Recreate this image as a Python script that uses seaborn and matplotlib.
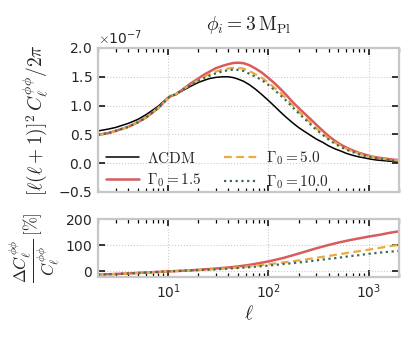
import numpy as np
import pandas as pd
import matplotlib
matplotlib.use("Agg")
import matplotlib.pyplot as plt
import seaborn as sns

# multipoles (top panel)
ell = [2, 2.5, 3, 4, 5, 6, 7, 8, 9, 10, 10.5, 11, 11.5, 12, 13, 15, 17, 20, 23, 26, 30,
       35, 40, 45, 50, 57, 65, 75, 85, 100, 115, 130, 150, 175, 200, 230, 265, 300, 350,
       400, 460, 530, 600, 700, 800, 920, 1050, 1200, 1400, 1600, 1800, 2000]
# [l(l+1)]^2 C_l^phiphi / 2pi in units of 1e-7
lcdm = [0.56, 0.59, 0.62, 0.69, 0.76, 0.84, 0.92, 0.99, 1.07, 1.14, 1.165, 1.175, 1.18, 1.19,
        1.23, 1.29, 1.34, 1.40, 1.44, 1.47, 1.49, 1.50, 1.50, 1.485, 1.46, 1.42, 1.36, 1.28,
        1.20, 1.09, 0.99, 0.90, 0.80, 0.70, 0.62, 0.55, 0.48, 0.42, 0.36, 0.30, 0.25, 0.21,
        0.17, 0.135, 0.11, 0.09, 0.07, 0.055, 0.045, 0.035, 0.03, 0.025]
gamma_15 = [0.49, 0.52, 0.56, 0.63, 0.71, 0.79, 0.88, 0.96, 1.05, 1.13, 1.16, 1.175, 1.185,
            1.20, 1.24, 1.32, 1.39, 1.47, 1.54, 1.59, 1.65, 1.69, 1.72, 1.74, 1.745, 1.735,
            1.70, 1.64, 1.58, 1.48, 1.39, 1.30, 1.19, 1.06, 0.96, 0.86, 0.76, 0.67, 0.56,
            0.47, 0.39, 0.32, 0.27, 0.22, 0.18, 0.15, 0.12, 0.10, 0.085, 0.07, 0.06, 0.055]
gamma_5 = [0.49, 0.52, 0.56, 0.63, 0.71, 0.79, 0.88, 0.96, 1.05, 1.13, 1.16, 1.175, 1.185,
           1.20, 1.24, 1.31, 1.37, 1.44, 1.50, 1.55, 1.59, 1.625, 1.645, 1.655, 1.655, 1.64,
           1.60, 1.54, 1.49, 1.40, 1.31, 1.23, 1.13, 1.01, 0.90, 0.80, 0.70, 0.61, 0.51,
           0.43, 0.36, 0.30, 0.25, 0.20, 0.165, 0.135, 0.11, 0.09, 0.075, 0.06, 0.05, 0.045]
gamma_10 = [0.49, 0.52, 0.56, 0.63, 0.71, 0.79, 0.88, 0.96, 1.05, 1.13, 1.16, 1.175, 1.185,
            1.20, 1.24, 1.31, 1.36, 1.43, 1.48, 1.52, 1.56, 1.595, 1.615, 1.625, 1.62, 1.60,
            1.55, 1.50, 1.45, 1.36, 1.27, 1.19, 1.09, 0.97, 0.87, 0.77, 0.67, 0.58, 0.49,
            0.41, 0.34, 0.28, 0.235, 0.19, 0.155, 0.125, 0.10, 0.085, 0.07, 0.055, 0.045, 0.04]

# relative difference w.r.t. LCDM in percent (bottom panel)
ell_diff = [2, 3, 5, 7, 10, 15, 20, 30, 40, 50, 65, 80, 100, 120, 140, 170, 200, 250,
            300, 400, 500, 640, 800, 1000, 1300, 1600, 2000]
diff_15 = [-12, -10, -6, -3, 0, 3, 6, 11, 15, 19, 25, 31, 38, 45, 51, 60, 68, 79,
           88, 101, 110, 119, 126, 133, 140, 147, 153]
diff_5 = [-12, -10, -6, -3, 0, 3, 5, 9, 12, 15, 19, 23, 27, 31, 34, 38, 42, 47,
          52, 59, 65, 72, 77, 83, 90, 96, 101]
diff_10 = [-12, -10, -6, -3, 0, 3, 5, 8, 11, 13, 16, 19, 22, 25, 28, 31, 34, 38,
           42, 48, 52, 58, 62, 67, 72, 75, 78]

colors = {"lcdm": "black", "g15": "#d95b5e", "g5": "#ebab3c", "g10": "#3d6b58"}

sns.set_style("whitegrid", {
    "grid.linestyle": ":", "grid.color": ".8",
    "axes.edgecolor": ".78",
    "xtick.direction": "in", "ytick.direction": "in",
    "xtick.top": True, "xtick.bottom": True,
    "ytick.left": True, "ytick.right": True,
})
plt.rcParams["mathtext.fontset"] = "cm"
plt.rcParams["axes.formatter.use_mathtext"] = True
plt.rcParams["font.family"] = ["DejaVu Sans"]

fig = plt.figure(figsize=(4.15, 3.38), dpi=100)
ax1 = fig.add_axes([0.236, 0.432, 0.725, 0.426])
ax2 = fig.add_axes([0.236, 0.180, 0.725, 0.172])

top = pd.DataFrame({"ell": ell, "lcdm": lcdm, "g15": gamma_15, "g5": gamma_5, "g10": gamma_10})
bot = pd.DataFrame({"ell": ell_diff, "g15": diff_15, "g5": diff_5, "g10": diff_10})

dash = (0, (3.5, 2))
dot = (0, (1, 1.6))

sns.lineplot(x=top["ell"], y=top["lcdm"] * 1e-7, ax=ax1, color=colors["lcdm"], lw=1.1,
             label=r"$\Lambda\mathrm{CDM}$", sort=False)
sns.lineplot(x=top["ell"], y=top["g15"] * 1e-7, ax=ax1, color=colors["g15"], lw=1.8,
             label=r"$\Gamma_0 = 1.5$", sort=False)
sns.lineplot(x=top["ell"], y=top["g5"] * 1e-7, ax=ax1, color=colors["g5"], lw=1.6, ls=dash,
             label=r"$\Gamma_0 = 5.0$", sort=False)
sns.lineplot(x=top["ell"], y=top["g10"] * 1e-7, ax=ax1, color=colors["g10"], lw=1.6, ls=dot,
             label=r"$\Gamma_0 = 10.0$", sort=False)

sns.lineplot(x=bot["ell"], y=bot["g15"], ax=ax2, color=colors["g15"], lw=1.8, sort=False)
sns.lineplot(x=bot["ell"], y=bot["g5"], ax=ax2, color=colors["g5"], lw=1.6, ls=dash, sort=False)
sns.lineplot(x=bot["ell"], y=bot["g10"], ax=ax2, color=colors["g10"], lw=1.6, ls=dot, sort=False)

for ax in (ax1, ax2):
    ax.set_xscale("log")
    ax.set_xlim(2, 2000)
    for s in ax.spines.values():
        s.set_linewidth(1.6)
    ax.tick_params(which="major", length=5, width=1.1, color="black", labelsize=10, pad=4)
    ax.tick_params(which="minor", length=3, width=0.9, color="black")
    ax.tick_params(axis="y", which="minor", left=False, right=False)
    ax.grid(True, which="major", ls=":", color=".8", lw=0.8)
    ax.grid(False, which="minor")

ax1.set_ylim(-0.5e-7, 2.0e-7)
ax1.set_yticks(np.arange(-0.5, 2.01, 0.5) * 1e-7)
ax1.tick_params(axis="x", labelbottom=False)
ax1.set_xlabel("")
ax1.set_ylabel(r"$[\ell(\ell+1)]^2\,C_\ell^{\phi\phi}/2\pi$", fontsize=14, labelpad=5)
ax1.set_title(r"$\phi_i = 3\,\mathrm{M_{Pl}}$", fontsize=14, pad=13)
ax1.yaxis.get_offset_text().set_fontsize(10)

ax2.set_ylim(-22, 200)
ax2.set_yticks([0, 100, 200])
ax2.set_xlabel(r"$\ell$", fontsize=14, labelpad=2)
ax2.set_ylabel(r"$\dfrac{\Delta C_\ell^{\phi\phi}}{C_\ell^{\phi\phi}}\,[\%]$", fontsize=12, labelpad=2)
fig.align_ylabels([ax1, ax2])

leg = ax1.legend(loc="lower left", bbox_to_anchor=(0.0, -0.045), ncol=2, frameon=False,
                 fontsize=11, handlelength=2.2, columnspacing=1.5, handletextpad=0.5,
                 borderaxespad=0.1, labelspacing=0.4)

fig.savefig("out.png", dpi=100)
